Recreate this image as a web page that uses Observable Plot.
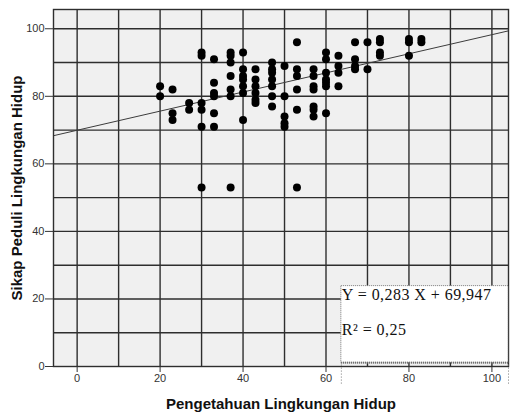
<!DOCTYPE html>
<html><head><meta charset="utf-8">
<script src="https://cdn.jsdelivr.net/npm/d3@7"></script>
<script src="https://cdn.jsdelivr.net/npm/@observablehq/plot@0.6"></script>
<style>body{margin:0;background:#fff}</style>
</head><body><div id="chart"></div>
<script>
// Data
const knowledge = [
  20,20,
  23,23,23,
  27,27,
  30,30,30,30,30,30,
  33,33,33,33,33,33,
  37,37,37,37,37,37,37,
  40,40,40,40,40,40,40,
  43,43,43,43,43,43,
  47,47,47,47,47,47,47,
  50,50,50,50,50,
  53,53,53,53,53,53,
  57,57,57,57,57,57,57,
  60,60,60,60,60,60,60,
  63,63,63,63,
  67,67,67,67,
  70,70,
  73,73,73,73,
  80,80,80,
  83,83
];
const attitude = [
  83,80,
  82,75,73,
  78,76,
  93,92,78,76,71,53,
  91,84,81,80,75,71,
  93,92,90,86,82,80,53,
  93,88,86,85,83,81,73,
  88,85,83,81,79,78,
  90,88,87,85,83,80,77,
  89,80,74,72,71,
  96,88,86,82,76,53,
  88,86,83,82,77,76,74,
  93,91,87,85,84,83,75,
  92,89,87,83,
  96,91,89,88,
  96,88,
  97,96,93,92,
  97,96,92,
  97,96
];
const slope = 0.283;
const intercept = 69.947;
const xDomain = [-5.7, 104];
const yDomain = [0, 105.7];
const xTicks = [0, 20, 40, 60, 80, 100];
const yTicks = [0, 20, 40, 60, 80, 100];
const xGrid = [0, 10, 20, 30, 40, 50, 60, 70, 80, 90, 100];
const yGrid = [10, 20, 30, 40, 50, 60, 70, 80, 90, 100];
const xTitle = "Pengetahuan Lingkungan Hidup";
const yTitle = "Sikap Peduli Lingkungan Hidup";
const eqLabels = ["Y = 0,283 X + 69,947", "R² = 0,25"];
// annotation box (data units)
const boxX = [63.7, 104];
const boxY = [1.1, 23.8];
const boxTail = -5.2;
const eqY = [19.8, 9.2];

const points = knowledge.map((k, i) => ({k, a: attitude[i]}));
const fit = xDomain.map(x => ({x, y: intercept + slope * x}));

const chart = Plot.plot({
  width: 511,
  height: 412,
  marginLeft: 53,
  marginRight: 3,
  marginTop: 9,
  marginBottom: 46,
  x: {domain: xDomain},
  y: {domain: yDomain},
  style: {fontFamily: "'Liberation Sans', Arial, sans-serif", background: "white", overflow: "visible"},
  marks: [
    Plot.frame({fill: "#f0f0f0", stroke: null}),
    Plot.ruleX(xGrid, {stroke: "#2e2e2e", strokeWidth: 1.4}),
    Plot.ruleY(yGrid, {stroke: "#2e2e2e", strokeWidth: 1.4}),
    Plot.line(fit, {x: "x", y: "y", stroke: "#3c3c3c", strokeWidth: 1}),
    Plot.dot(points, {x: "k", y: "a", r: 4, fill: "black", stroke: null}),
    Plot.frame({stroke: "#2e2e2e", strokeWidth: 1.4}),
    Plot.rect([0], {x1: boxX[0], x2: boxX[1], y1: boxY[0], y2: boxY[1], fill: "white", stroke: "#777", strokeDasharray: "1,1"}),
    Plot.ruleY([0], {x1: boxX[0], x2: boxX[1], y: boxY[0], stroke: "#666", strokeWidth: 2, strokeDasharray: "1,1"}),
    Plot.ruleX(boxX, {x: d => d, y1: boxTail, y2: boxY[0], stroke: "#777", strokeDasharray: "1,2"}),
    Plot.text(eqLabels, {x: boxX[0], y: (d, i) => eqY[i], text: d => d, textAnchor: "start", lineAnchor: "bottom", fontFamily: "'Liberation Serif', 'Times New Roman', serif", fontSize: 16, fill: "#111", dx: 0.5, className: "eq"}),
    Plot.axisX({ticks: xTicks, tickSize: 6, tickPadding: 1.5, fontSize: 11, color: "#333", label: null}),
    Plot.axisY({ticks: yTicks, tickSize: 8, tickPadding: 1, fontSize: 11, color: "#333", label: null}),
    Plot.text([xTitle], {frameAnchor: "bottom", dy: 42, lineAnchor: "bottom", textAnchor: "middle", fontSize: 15, fontWeight: "bold", fill: "#111"}),
    Plot.text([yTitle], {frameAnchor: "left", dx: -32, rotate: -90, lineAnchor: "bottom", textAnchor: "middle", fontSize: 15, fontWeight: "bold", fill: "#111"})
  ]
});
d3.select(chart).selectAll("g.eq text").style("letter-spacing", "0.45px");
document.getElementById("chart").appendChild(chart);
</script>
</body></html>
